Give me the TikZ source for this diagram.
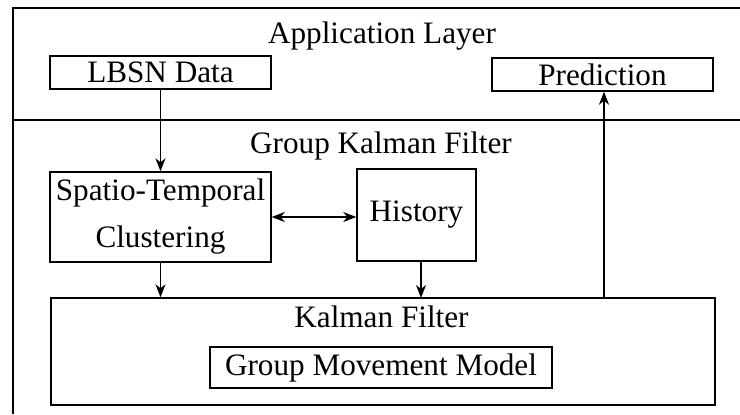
\documentclass[tikz,border=0pt]{standalone}
\usepackage{fontspec}
\setmainfont{Liberation Serif}
\usetikzlibrary{arrows.meta}

\tikzset{
    box/.style={shape=rectangle,draw=black,line width=0.7pt,inner sep=0pt},
    title/.style={anchor=base,inner sep=0pt},
    flow/.style={line width=0.7pt},
}

\begin{document}
\begin{tikzpicture}[x=0.5pt,y=-0.5pt,>={Stealth[length=6.5pt,width=5pt,inset=2pt]},
        every node/.style={font=\fontsize{15.6}{18.5}\selectfont}]
    \useasboundingbox (0,0) rectangle (740,414);

    % layers
    \draw[line width=1pt] (740,8) -- (13,8) -- (13,414);
    \draw[line width=0.8pt] (13,120) -- (740,120);
    \node[title] (app) at (382,43) {Application Layer};
    \node[title] (gkf) at (381,153) {Group Kalman Filter};

    \node[box,minimum width=110.5pt,minimum height=16.5pt] (lbsn) at (160.5,72.5) {LBSN Data};
    \node[box,minimum width=110.5pt,minimum height=16.5pt] (pred) at (602.5,74.5) {Prediction};
    \node[box,minimum width=110.5pt,minimum height=45pt,align=center,
          font=\fontsize{15.6}{23.5}\selectfont] (stc) at (160.5,217) {Spatio-Temporal\\Clustering};
    \node[box,minimum width=59.5pt,minimum height=46pt] (hist) at (416.5,215) {History};
    \node[box,minimum width=332pt,minimum height=53.5pt] (kf) at (383,351.5) {};
    \node[title] (kftext) at (381.5,327) {Kalman Filter};
    \node[box,minimum width=171pt,minimum height=20.5pt] (gmm) at (381,367.5) {Group Movement Model};

    \path [->,flow] (lbsn)
            edge (stc);
    \path [<->,flow] (stc.east)
            edge (stc.east -| hist.west);
    \path [->,flow] (stc.south)
            edge (stc.south |- kf.north);
    \path [->,flow] (hist.south -| 421,0)
            edge (421,298);
    \path [->,flow] (kf.north -| 604,0)
            edge (pred.south -| 604,0);
\end{tikzpicture}
\end{document}
